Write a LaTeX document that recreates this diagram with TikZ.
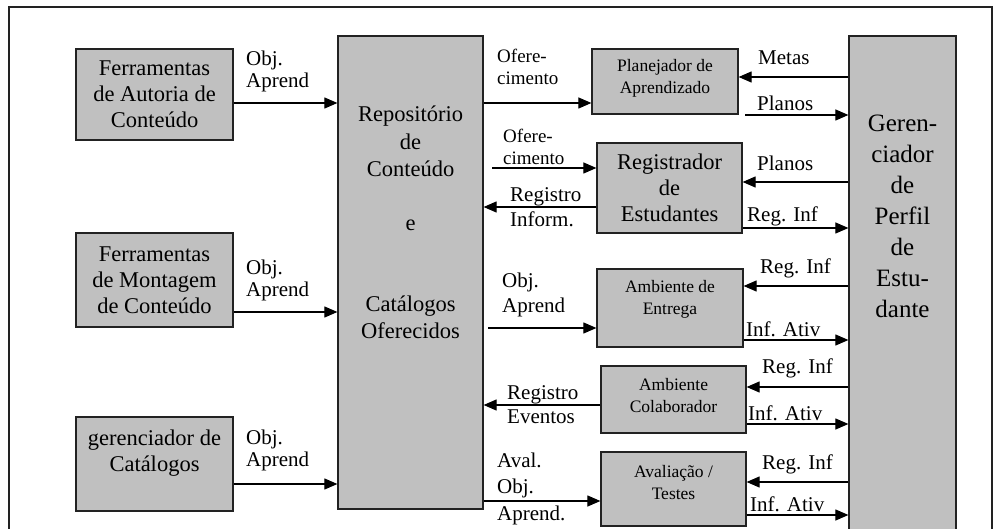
\documentclass[tikz,border=0pt]{standalone}
\usepackage{fontspec}
\setmainfont{Liberation Serif}
\usepackage{xcolor}
\usepackage{tikz}
\usetikzlibrary{arrows.meta, positioning}
\definecolor{boxgray}{RGB}{192,192,192}
\definecolor{edge}{RGB}{34,34,34}
\tikzset{
    box/.style={rectangle, draw=edge, line width=1.2pt, fill=boxgray, text centered, align=center, inner sep=0pt},
    bigtext/.style={font=\fontsize{22.5}{26}\selectfont},
    smalltext/.style={font=\fontsize{17.5}{22}\selectfont},
    lbl/.style={inner sep=0pt, align=left, font=\fontsize{21}{22}\selectfont},
    smalllbl/.style={inner sep=0pt, align=left, font=\fontsize{19}{22}\selectfont},
    flow/.style={-{Triangle[length=13pt, width=11pt]}, line width=1.1pt, draw=black},
    frame/.style={line width=1.4pt, draw=edge}
}

\begin{document}
\begin{tikzpicture}[x=1pt, y=-1pt]
    \useasboundingbox (0,0) rectangle (996,529);
    \clip (0,0) rectangle (996,529);

    % Outer frame
    \draw[frame] (9,529) -- (9,7) -- (992,7) -- (992,529);

    % Tools Layer
    \node[box, bigtext, minimum width=157pt, minimum height=91pt] (autoria) at (154.5,94.5) {Ferramentas\\de Autoria de\\Conteúdo};
    \node[box, bigtext, minimum width=157pt, minimum height=94pt] (montagem) at (154.5,280) {Ferramentas\\de Montagem\\de Conteúdo};
    \node[box, bigtext, minimum width=157pt, minimum height=94pt] (ger_catalogos) at (154.5,464) {gerenciador de\\Catálogos\\\mbox{}};

    % Repository
    \node[box, minimum width=145pt, minimum height=473pt] (repositorio) at (410.5,272.5) {};
    \node[align=center, inner sep=0pt, font=\fontsize{22.5}{27.4}\selectfont] (repositorio_txt) at (410.5,222.5) {Repositório\\de\\Conteúdo\\[27pt]e\\[53pt]Catálogos\\Oferecidos};

    % Learning services
    \node[box, smalltext, minimum width=146pt, minimum height=65pt] (planejador) at (665,81.5) {Planejador de\\Aprendizado\\[-12pt]\mbox{}};
    \node[box, bigtext, minimum width=145pt, minimum height=90pt] (registrador) at (669.5,188) {Registrador\\de\\Estudantes};
    \node[box, smalltext, minimum width=146pt, minimum height=78pt] (entrega) at (670,308) {Ambiente de\\Entrega\\\mbox{}};
    \node[box, smalltext, minimum width=145pt, minimum height=67pt] (colaborador) at (673.5,399.5) {Ambiente\\Colaborador\\[-13pt]\mbox{}};
    \node[box, smalltext, minimum width=145pt, minimum height=74pt] (avaliacao) at (673.5,489) {Avaliação /\\Testes\\[-9pt]\mbox{}};

    % Student profile
    \node[box, minimum width=107pt, minimum height=530pt] (ger_perfil) at (902.5,301) {};
    \node[align=center, inner sep=0pt, font=\fontsize{25}{31}\selectfont] (ger_perfil_txt) at (902.5,216.5) {Geren-\\ciador\\de\\Perfil\\de\\Estu-\\dante};

    % Free ends
    \coordinate (oferta_ini) at (492,168);
    \coordinate (entrega_ini) at (488,328);
    \coordinate (planos_ini) at (745,115);

    % Tools to repository
    \draw[flow] (autoria.east |- 0,103) -- (repositorio.west |- 0,103);
    \draw[flow] (montagem.east |- 0,312) -- (repositorio.west |- 0,312);
    \draw[flow] (ger_catalogos.east |- 0,484) -- (repositorio.west |- 0,484);
    \node[lbl, anchor=west] (obj_autoria) at (246,71) {Obj.\\Aprend};
    \node[lbl, anchor=west] (obj_montagem) at (246,280) {Obj.\\Aprend};
    \node[lbl, anchor=west] (obj_catalogos) at (246,450) {Obj.\\Aprend};

    % Repository to services
    \draw[flow] (repositorio.east |- 0,103) -- (planejador.west |- 0,103);
    \draw[flow] (oferta_ini) -- (registrador.west |- oferta_ini);
    \draw[flow] (registrador.west |- 0,207) -- (repositorio.east |- 0,207);
    \draw[flow] (entrega_ini) -- (entrega.west |- entrega_ini);
    \draw[flow] (colaborador.west |- 0,405) -- (repositorio.east |- 0,405);
    \draw[flow] (repositorio.east |- 0,501) -- (avaliacao.west |- 0,501);
    \node[smalllbl, anchor=west] (oferta_plan) at (497,66.5) {Ofere-\\cimento};
    \node[smalllbl, anchor=west] (oferta_reg) at (503,147) {Ofere-\\cimento};
    \node[lbl, anchor=west, font=\fontsize{21}{25}\selectfont] (reg_inform) at (510,207.5) {Registro\\Inform.};
    \node[lbl, anchor=west, font=\fontsize{21}{25}\selectfont] (obj_entrega) at (502,294.5) {Obj.\\Aprend};
    \node[lbl, anchor=west, font=\fontsize{21}{24}\selectfont] (reg_eventos) at (507,405) {Registro\\Eventos};
    \node[lbl, anchor=west, font=\fontsize{21}{26.5}\selectfont] (aval_obj) at (497,488.5) {Aval.\\Obj.\\Aprend.};

    % Profile to services
    \draw[flow] (ger_perfil.west |- 0,77) -- (planejador.east |- 0,77);
    \draw[flow] (planos_ini) -- (ger_perfil.west |- planos_ini);
    \draw[flow] (ger_perfil.west |- 0,182) -- (registrador.east |- 0,182);
    \draw[flow] (registrador.east |- 0,228) -- (ger_perfil.west |- 0,228);
    \draw[flow] (ger_perfil.west |- 0,286) -- (entrega.east |- 0,286);
    \draw[flow] (entrega.east |- 0,340) -- (ger_perfil.west |- 0,340);
    \draw[flow] (ger_perfil.west |- 0,387) -- (colaborador.east |- 0,387);
    \draw[flow] (colaborador.east |- 0,424) -- (ger_perfil.west |- 0,424);
    \draw[flow] (ger_perfil.west |- 0,482) -- (avaliacao.east |- 0,482);
    \draw[flow] (avaliacao.east |- 0,515) -- (ger_perfil.west |- 0,515);
    \node[lbl, anchor=west] (metas) at (758,58) {Metas};
    \node[lbl, anchor=west] (planos_plan) at (757,103) {Planos};
    \node[lbl, anchor=west] (planos_reg) at (757,163) {Planos};
    \node[lbl, anchor=west] (reg_inf_reg) at (747,216) {Reg. Inf};
    \node[lbl, anchor=west] (reg_inf_ent) at (760,268) {Reg. Inf};
    \node[lbl, anchor=west] (inf_ativ_ent) at (746,329) {Inf. Ativ};
    \node[lbl, anchor=west] (reg_inf_col) at (762,368) {Reg. Inf};
    \node[lbl, anchor=west] (inf_ativ_col) at (748,413) {Inf. Ativ};
    \node[lbl, anchor=west] (reg_inf_ava) at (762,464) {Reg. Inf};
    \node[lbl, anchor=west] (inf_ativ_ava) at (750,504) {Inf. Ativ};
\end{tikzpicture}
\end{document}
